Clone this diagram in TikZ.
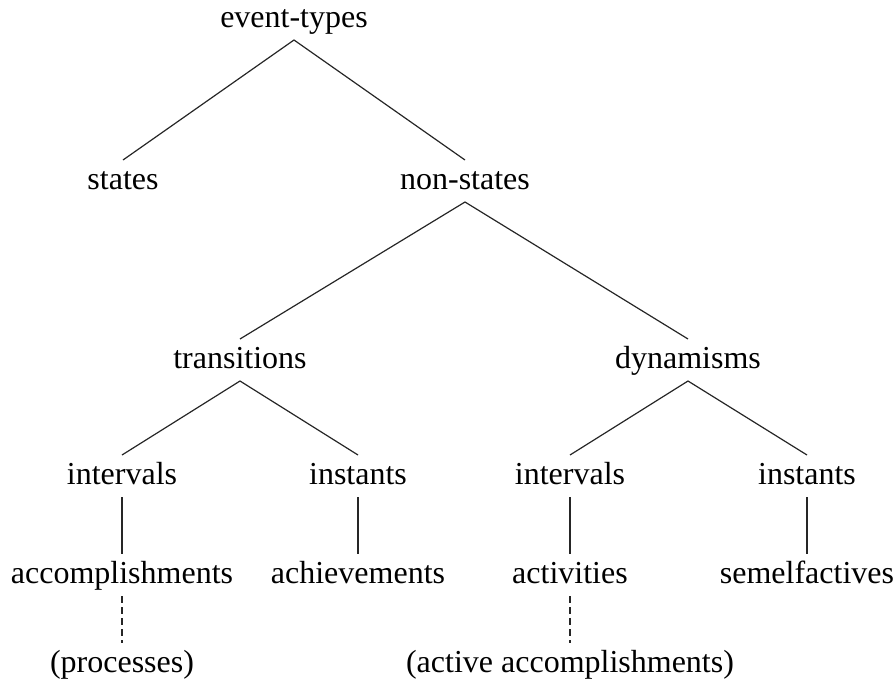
\documentclass[tikz,border=0pt]{standalone}
\usepackage{fontspec}
\setmainfont{Liberation Serif}
\usepackage{tikz}
\tikzset{
    cat/.style={anchor=base, inner sep=0pt, outer sep=2.5pt, text height=12pt, text depth=4pt, font=\fontsize{16}{19}\selectfont},
    branch/.style={draw=black!85, line width=0.6pt},
    maybe/.style={branch, dash pattern=on 3.5pt off 2pt}
}

\begin{document}
\begin{tikzpicture}[x=0.5pt, y=-0.5pt]
    % Fix the page size
    \useasboundingbox (0,0) rectangle (895,686);

    % Top levels
    \node[cat] (evt) at (294,27) {event-types};
    \node[cat] (states) at (123,189) {states};
    \node[cat] (nonstates) at (465,189) {non-states};
    \node[cat] (trans) at (240,368) {transitions};
    \node[cat] (dyn) at (688,368) {dynamisms};

    % Intervals and instants
    \node[cat] (transint) at (122,484) {intervals};
    \node[cat] (transinst) at (358,484) {instants};
    \node[cat] (dynint) at (570,484) {intervals};
    \node[cat] (dyninst) at (807,484) {instants};

    % Leaves
    \node[cat] (accomp) at (122,583) {accomplishments};
    \node[cat] (achieve) at (358,583) {achievements};
    \node[cat] (activ) at (570,583) {activities};
    \node[cat] (semel) at (807,583) {semelfactives};
    \node[cat] (proc) at (122,672) {(processes)};
    \node[cat] (actacc) at (570,672) {(active accomplishments)};

    % Draw branches
    \draw[branch] (states.north) -- (evt.south) -- (nonstates.north);
    \draw[branch] (trans.north) -- (nonstates.south) -- (dyn.north);
    \draw[branch] (transint.north) -- (trans.south) -- (transinst.north);
    \draw[branch] (dynint.north) -- (dyn.south) -- (dyninst.north);
    \draw[branch] (transint.south) -- (accomp.north);
    \draw[branch] (transinst.south) -- (achieve.north);
    \draw[branch] (dynint.south) -- (activ.north);
    \draw[branch] (dyninst.south) -- (semel.north);

    % Dashed links to the bracketed types
    \draw[maybe] (accomp.south) -- (proc.north);
    \draw[maybe] (activ.south) -- (actacc.north);
\end{tikzpicture}
\end{document}
